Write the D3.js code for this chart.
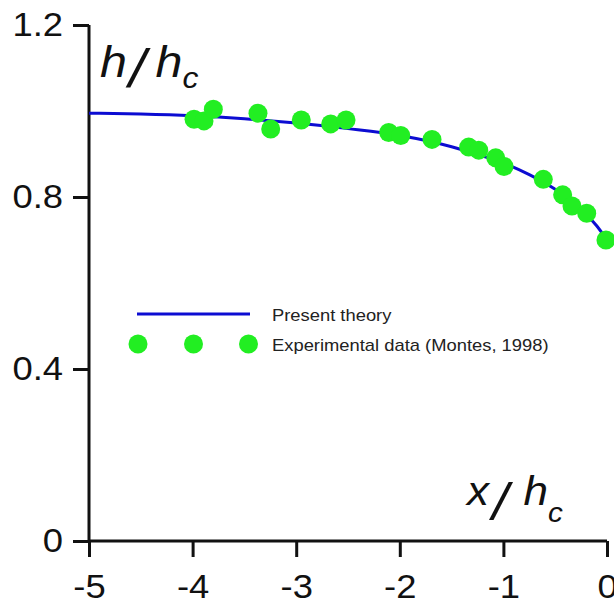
<!DOCTYPE html>
<html><head><meta charset="utf-8">
<script src="https://cdn.jsdelivr.net/npm/d3@7"></script>
<style>
html,body{margin:0;padding:0;background:#fff;}
svg{display:block;font-family:Arial,"Liberation Sans",sans-serif;}
</style></head>
<body>
<script>
// Data
const theoryX = [-5, -4.5, -4, -3.5, -3, -2.5, -2, -1.5, -1.25, -1, -0.75, -0.5, -0.35, -0.2, -0.1, 0];
const theoryH = [0.995, 0.993, 0.989, 0.982, 0.972, 0.959, 0.943, 0.917, 0.899, 0.879, 0.852, 0.818, 0.793, 0.760, 0.733, 0.700];
const expX = [-3.986, -3.890, -3.800, -3.369, -3.246, -2.951, -2.667, -2.519, -2.107, -1.991, -1.689, -1.335, -1.238, -1.074, -0.994, -0.615, -0.428, -0.338, -0.196, -0.010];
const expH = [0.981, 0.977, 1.004, 0.995, 0.958, 0.979, 0.970, 0.979, 0.950, 0.943, 0.934, 0.916, 0.909, 0.891, 0.871, 0.841, 0.805, 0.779, 0.762, 0.700];
const xTicks = [-5, -4, -3, -2, -1, 0];
const yTicks = [0, 0.4, 0.8, 1.2];
const legendLabels = ["Present theory", "Experimental data (Montes, 1998)"];

const W = 614, H = 605;
const m = {left: 89, top: 25, right: 7, bottom: 64};
const svg = d3.select("body").append("svg").attr("width", W).attr("height", H);

const x = d3.scaleLinear().domain([-5, 0]).range([m.left, W - m.right]);
const y = d3.scaleLinear().domain([0, 1.2]).range([H - m.bottom, m.top]);

const blue = "#0c0cd2", green = "#22ee22", ink = "#111";

function stretch(sel, k) {
  sel.each(function() {
    const L = this.getComputedTextLength();
    d3.select(this).attr("textLength", L * k).attr("lengthAdjust", "spacingAndGlyphs");
  });
}

// Axes
const xAxis = svg.append("g").attr("transform", `translate(0,${y(0)})`)
  .call(d3.axisBottom(x).tickValues(xTicks).tickSize(16).tickPadding(18).tickFormat(d => String(d)));
const yAxis = svg.append("g").attr("transform", `translate(${x(-5)},0)`)
  .call(d3.axisLeft(y).tickValues(yTicks).tickSize(16).tickPadding(10).tickFormat(d => String(d)));
[xAxis, yAxis].forEach(g => {
  g.select(".domain").attr("stroke", ink).attr("stroke-width", 3);
  g.selectAll(".tick line").attr("stroke", ink).attr("stroke-width", 3);
  g.selectAll(".tick text").attr("fill", ink).style("font-size", "32.5px").style("font-family", "Arial, 'Liberation Sans', sans-serif");
  stretch(g.selectAll(".tick text"), 1.12);
});
xAxis.select(".domain").attr("d", `M${x(-5)},0H${x(0)}`);
yAxis.select(".domain").attr("d", `M0,${y(1.2)}V${y(0)}`);

// Theory line
const theory = theoryX.map((v, i) => [v, theoryH[i]]);
svg.append("path").datum(theory)
  .attr("fill", "none").attr("stroke", blue).attr("stroke-width", 3)
  .attr("d", d3.line().x(d => x(d[0])).y(d => y(d[1])).curve(d3.curveMonotoneX));

// Experimental points
const exp = expX.map((v, i) => [v, expH[i]]);
svg.append("g").selectAll("circle").data(exp).join("circle")
  .attr("cx", d => x(d[0])).attr("cy", d => y(d[1])).attr("r", 9.5).attr("fill", green);

// Legend
const lg = svg.append("g");
lg.append("line").attr("x1", 137).attr("x2", 250).attr("y1", 314).attr("y2", 314)
  .attr("stroke", blue).attr("stroke-width", 3);
[138, 193.5, 248.5].forEach(cx => lg.append("circle").attr("cx", cx).attr("cy", 344).attr("r", 9.5).attr("fill", green));
const lt = lg.selectAll("text").data(legendLabels).join("text")
  .attr("x", 272).attr("y", (d, i) => 321 + i * 30)
  .attr("fill", "#222").style("font-size", "17px").text(d => d);
stretch(lt, 1.08);

// Axis titles
function title(x0, y0, fs, slashFs, slashDy, dxSlash, dxH, subFs, subDy, first) {
  const t = svg.append("text").attr("transform", `translate(${x0},${y0}) scale(1.1,1)`)
    .attr("fill", ink).style("font-style", "italic").style("font-size", fs + "px");
  t.append("tspan").text(first);
  t.append("tspan").attr("dx", dxSlash).attr("dy", slashDy).style("font-size", slashFs + "px").text("/");
  t.append("tspan").attr("dx", dxH).attr("dy", -slashDy).text("h");
  t.append("tspan").attr("dy", subDy).style("font-size", subFs + "px").text("c");
}
title(100, 77, 44, 54, 10, 2, 9, 29, 11, "h");
title(467, 505, 40, 52, 15, 3, 14, 27, 17, "x");
</script>
</body></html>
